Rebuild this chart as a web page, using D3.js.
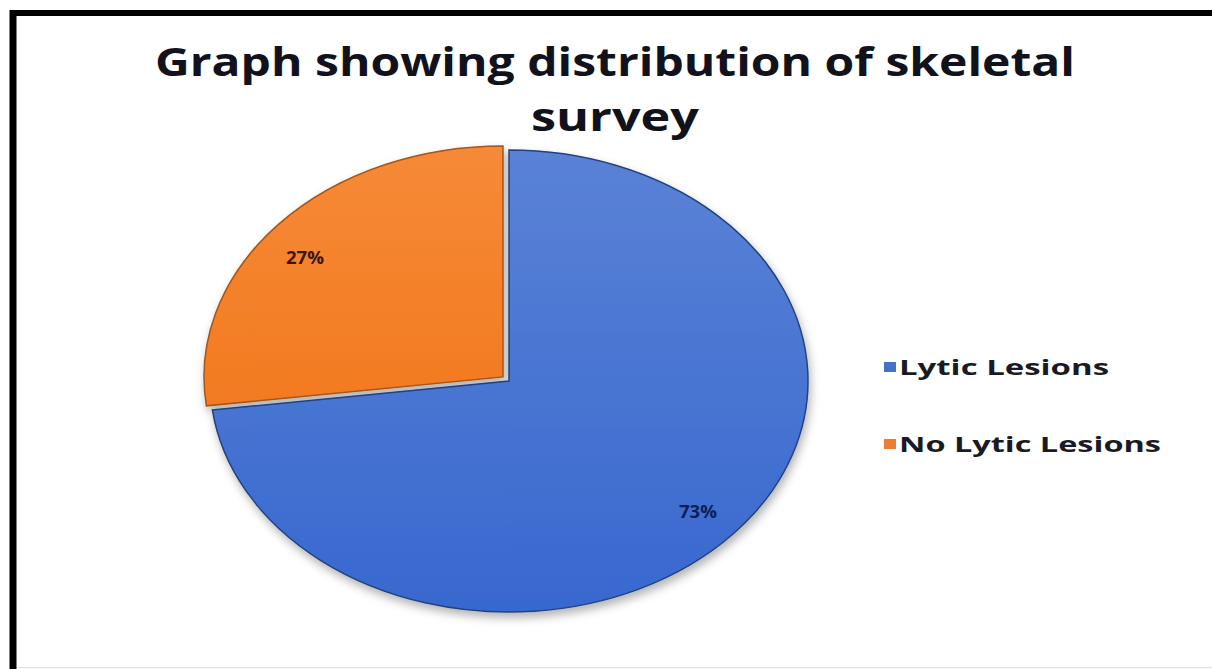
<!DOCTYPE html>
<html>
<head>
<meta charset="utf-8">
<script src="https://cdn.jsdelivr.net/npm/d3@7"></script>
<style>
  body { margin: 0; background: #fff; }
  svg { display: block; }
</style>
</head>
<body>
<div id="chart"></div>
<script>
const categories = ["Lytic Lesions", "No Lytic Lesions"];
const values = [73, 27];
const colors = ["#4472c4", "#ed7d31"];
const titleLines = ["Graph showing distribution of skeletal", "survey"];

const w = 1212;
const h = 669;
const cx = 509, cy = 381;
const rx = 299, ry = 231;
const explode = [0, 8];
const font = "'Open Sans', Lato, sans-serif";

const svg = d3.select("#chart")
    .append("svg")
    .attr("width", w)
    .attr("height", h);

const defs = svg.append("defs");
const shadow = defs.append("filter")
    .attr("id", "shadow")
    .attr("x", "-20%").attr("y", "-20%")
    .attr("width", "140%").attr("height", "140%");
shadow.append("feDropShadow")
    .attr("dx", 2).attr("dy", 5)
    .attr("stdDeviation", 5)
    .attr("flood-color", "#000")
    .attr("flood-opacity", 0.3);

const grads = [["#5a82d6", "#3868cf"], ["#f68a38", "#f27a20"]];
grads.forEach((g, i) => {
    const lg = defs.append("linearGradient")
        .attr("id", "grad" + i)
        .attr("x1", 0).attr("y1", 0).attr("x2", 0).attr("y2", 1);
    lg.append("stop").attr("offset", "0%").attr("stop-color", g[0]);
    lg.append("stop").attr("offset", "100%").attr("stop-color", g[1]);
});

// frame (only left and top edges show)
svg.append("line")
    .attr("x1", 13).attr("y1", 10).attr("x2", 13).attr("y2", h)
    .attr("stroke", "#000").attr("stroke-width", 7);
svg.append("line")
    .attr("x1", 10).attr("y1", 13).attr("x2", w).attr("y2", 13)
    .attr("stroke", "#000").attr("stroke-width", 6);
svg.append("line")
    .attr("x1", 18).attr("y1", 667.5).attr("x2", w).attr("y2", 667.5)
    .attr("stroke", "#ddd").attr("stroke-width", 1);

// the source picture is stretched sideways, so texts are stretched to width
const addText = (x, y, txt, size, width, anchor, fill) =>
    svg.append("text")
        .attr("x", x).attr("y", y)
        .attr("text-anchor", anchor)
        .attr("font-family", font)
        .attr("font-weight", 700)
        .attr("font-size", size)
        .attr("fill", fill)
        .attr("textLength", width)
        .attr("lengthAdjust", "spacingAndGlyphs")
        .text(txt);

// title
addText(615, 76, titleLines[0], 39, 920, "middle", "#12121c");
addText(615, 131, titleLines[1], 39, 168, "middle", "#12121c");

// pie
const pie = d3.pie().sort(null).value(d => d)(values);
const arc = d3.arc().innerRadius(0).outerRadius(rx);

const pieG = svg.append("g")
    .attr("filter", "url(#shadow)");

pie.forEach((p, i) => {
    const mid = (p.startAngle + p.endAngle) / 2;
    const dx = Math.sin(mid) * explode[i];
    const dy = -Math.cos(mid) * explode[i] * ry / rx;
    pieG.append("path")
        .attr("d", arc(p))
        .attr("transform", `translate(${cx + dx},${cy + dy}) scale(1,${ry / rx})`)
        .attr("fill", `url(#grad${i})`)
        .attr("stroke", i === 0 ? "#23427e" : "#a85418")
        .attr("stroke-width", 1.5)
        .attr("vector-effect", "non-scaling-stroke");
});

// data labels
const labelPos = [[698, 512], [305, 258]];
const labelColors = ["#0d1f55", "#3a1606"];
pie.forEach((p, i) => {
    addText(labelPos[i][0], labelPos[i][1] + 6,
        d3.format(".0%")(p.data / d3.sum(values)),
        17, 38, "middle", labelColors[i]);
});

// legend
const legendY = [367, 444];
const legendW = [210, 262];
categories.forEach((c, i) => {
    svg.append("rect")
        .attr("x", 884).attr("y", legendY[i] - 5)
        .attr("width", 12).attr("height", 10)
        .attr("fill", colors[i]);
    addText(899, legendY[i] + 8, c, 21, legendW[i], "start", "#1a1a24");
});
</script>
</body>
</html>
